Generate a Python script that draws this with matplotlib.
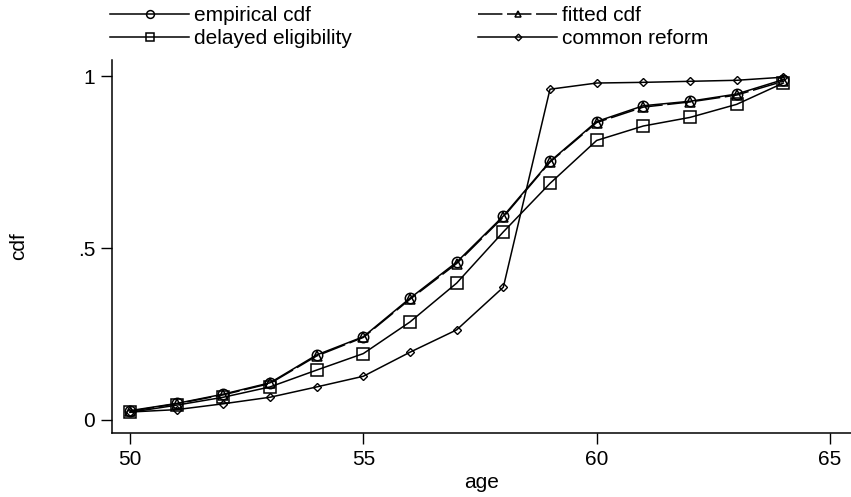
import matplotlib
matplotlib.use("Agg")
import matplotlib.pyplot as plt

plt.rcParams['font.family'] = ['Liberation Sans', 'DejaVu Sans']

# ages and cdf values
ages = [50, 51, 52, 53, 54, 55, 56, 57, 58, 59, 60, 61, 62, 63, 64]
empirical = [0.027, 0.048, 0.075, 0.108, 0.189, 0.242, 0.354, 0.459, 0.593, 0.752, 0.868, 0.914, 0.927, 0.948, 0.990]
fitted = [0.025, 0.047, 0.073, 0.106, 0.186, 0.240, 0.351, 0.455, 0.590, 0.750, 0.865, 0.910, 0.925, 0.945, 0.985]
delayed = [0.022, 0.043, 0.066, 0.096, 0.145, 0.193, 0.285, 0.398, 0.547, 0.688, 0.813, 0.855, 0.880, 0.918, 0.980]
common = [0.023, 0.030, 0.047, 0.066, 0.096, 0.127, 0.197, 0.262, 0.386, 0.962, 0.980, 0.982, 0.985, 0.988, 0.997]

yticks = [0, 0.5, 1]
ytick_labels = ['0', '.5', '1']
xticks = [50, 55, 60, 65]

fig = plt.figure(figsize=(8.51, 4.97), dpi=100)
ax = fig.add_axes([112 / 851, 64 / 497, 739 / 851, 373 / 497])

lw = 1.1
h_emp, = ax.plot(ages, empirical, color='black', lw=lw, marker='o', ms=7.5,
                 mfc='none', mec='black', mew=1.1)
h_fit, = ax.plot(ages, fitted, color='black', lw=lw, ls=(0, (16, 3)), marker='^',
                 ms=6.5, mfc='none', mec='black', mew=1.1)
h_del, = ax.plot(ages, delayed, color='black', lw=lw, marker='s', ms=8.5,
                 mfc='none', mec='black', mew=1.1)
h_com, = ax.plot(ages, common, color='black', lw=lw, marker='D', ms=4.5,
                 mfc='none', mec='black', mew=1.0)

ax.set_xlim(49.615, 65.45)
ax.set_ylim(-0.038, 1.047)
ax.set_xticks(xticks)
ax.set_yticks(yticks)
ax.set_yticklabels(ytick_labels)
ax.tick_params(direction='out', length=8, width=1.0, labelsize=15, pad=4)

for side in ['top', 'right']:
    ax.spines[side].set_visible(False)
for side in ['left', 'bottom']:
    ax.spines[side].set_linewidth(1.1)

ax.set_xlabel('age', fontsize=15, labelpad=3)
ax.set_ylabel('cdf', fontsize=15, labelpad=36)

# two-column legend at the top, drawn as two stacked legends
legend_kw = dict(frameon=False, fontsize=15, handlelength=3.8, handletextpad=0.25,
                 labelspacing=0.2, borderpad=0, borderaxespad=0, numpoints=1,
                 markerscale=0.75)
leg1 = fig.legend([h_emp, h_del], ['empirical cdf', 'delayed eligibility'],
                  loc='upper left', bbox_to_anchor=(110 / 851, 1 - 6 / 497), **legend_kw)
leg2 = fig.legend([h_fit, h_com], ['fitted cdf', 'common reform'],
                  loc='upper left', bbox_to_anchor=(478 / 851, 1 - 6 / 497), **legend_kw)

fig.savefig('out.png', dpi=100)
